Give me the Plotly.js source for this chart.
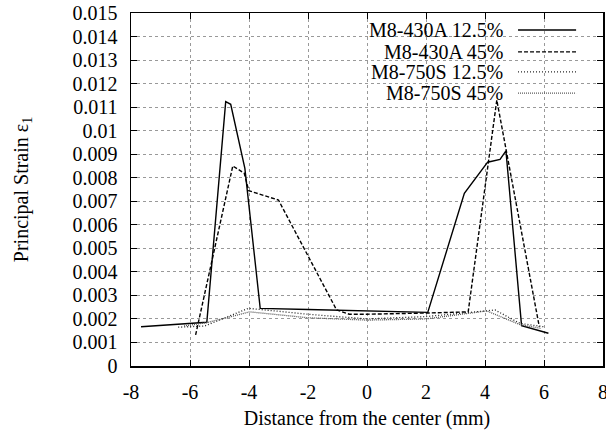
<!DOCTYPE html>
<html>
<head>
<meta charset="utf-8">
<script src="https://cdn.plot.ly/plotly-3.0.1.min.js"></script>
<style>html,body{margin:0;padding:0;background:#fff;}#chart{width:606px;height:434px;}</style>
</head>
<body>
<div id="chart"></div>
<script>
// Series names
const seriesNames = ["M8-430A 12.5%", "M8-430A 45%", "M8-750S 12.5%", "M8-750S 45%"];

// M8-430A 12.5%
const x430A125 = [-7.66, -5.43, -4.79, -4.62, -4.14, -3.62, -2.0, 0.0, 2.06, 3.30, 4.09, 4.51, 4.71, 5.24, 6.15];
const y430A125 = [0.00167, 0.00186, 0.01123, 0.01112, 0.0084, 0.00245, 0.0024, 0.00235, 0.00228, 0.00734, 0.00866, 0.00878, 0.00914, 0.00171, 0.00139];

// M8-430A 45%
const x430A45 = [-5.81, -4.55, -4.16, -4.01, -3.0, -1.03, -0.6, 0.0, 2.0, 3.43, 4.40, 5.84];
const y430A45 = [0.00132, 0.0085, 0.00819, 0.00745, 0.00705, 0.00238, 0.0022, 0.0022, 0.00225, 0.0023, 0.0113, 0.00167];

// M8-750S 12.5%
const x750S125 = [-6.4, -5.5, -4.02, -2.0, 0.0, 2.0, 4.34, 5.19, 5.98];
const y750S125 = [0.00165, 0.0017, 0.00245, 0.0022, 0.002, 0.0021, 0.00238, 0.00181, 0.00167];

// M8-750S 45%
const x750S45 = [-6.2, -5.4, -3.97, -2.0, 0.0, 2.0, 4.06, 5.2, 5.9];
const y750S45 = [0.0017, 0.00185, 0.0023, 0.00205, 0.00195, 0.002, 0.00234, 0.00175, 0.0016];

// Tick labels
const xTickVals = [-8, -6, -4, -2, 0, 2, 4, 6, 8];
const xTickText = ["-8", "-6", "-4", "-2", "0", "2", "4", "6", "8"];
const yTickVals = [0, 0.001, 0.002, 0.003, 0.004, 0.005, 0.006, 0.007, 0.008, 0.009, 0.01, 0.011, 0.012, 0.013, 0.014, 0.015];
const yTickText = ["0", "0.001", "0.002", "0.003", "0.004", "0.005", "0.006", "0.007", "0.008", "0.009", "0.01", "0.011", "0.012", "0.013", "0.014", "0.015"];

const styles = [
  {color: "#000", width: 1.4, dash: "solid"},
  {color: "#000", width: 1.4, dash: "4px,2px"},
  {color: "#222", width: 1.3, dash: "1px,2px"},
  {color: "#555", width: 1.3, dash: "1px,1px"}
];

const xs = [x430A125, x430A45, x750S125, x750S45];
const ys = [y430A125, y430A45, y750S125, y750S45];

const traces = xs.map((x, i) => ({
  x: x, y: ys[i], type: "scatter", mode: "lines", name: seriesNames[i],
  line: styles[i], showlegend: false
}));

const font = {family: "Liberation Serif", size: 20, color: "#000"};

// legend built as annotations + sample lines (gnuplot style: text left of sample)
const legendRowY = [0.952, 0.890, 0.833, 0.773];
const annotations = seriesNames.map((n, i) => ({
  xref: "paper", yref: "paper", x: 0.792, y: legendRowY[i], xanchor: "right", yanchor: "middle",
  text: n, showarrow: false, font: font
}));
const shapes = [{
  type: "rect", xref: "paper", yref: "paper", x0: 0.443, x1: 0.972, y0: 0.754, y1: 1.0,
  fillcolor: "#fff", line: {width: 0}, layer: "between"
}].concat(seriesNames.map((n, i) => ({
  type: "line", xref: "paper", yref: "paper", x0: 0.82, x1: 0.943, y0: legendRowY[i], y1: legendRowY[i],
  line: styles[i]
})));

const axisCommon = {
  showline: true, linecolor: "#000", linewidth: 1.5, mirror: "ticks",
  ticks: "inside", ticklen: 6, tickcolor: "#000", tickwidth: 1,
  showgrid: true, gridcolor: "#999", griddash: "dot", gridwidth: 1,
  zeroline: false, tickfont: font, tickmode: "array", ticklabeloverflow: "allow"
};

const layout = {
  width: 606, height: 434,
  margin: {l: 131, r: 3, t: 13, b: 68},
  paper_bgcolor: "#fff", plot_bgcolor: "#fff",
  font: font,
  xaxis: Object.assign({}, axisCommon, {
    range: [-8, 8], tickvals: xTickVals, ticktext: xTickText, ticklabelstandoff: 7,
    title: {text: "Distance from the center (mm)", font: font, standoff: 9}
  }),
  yaxis: Object.assign({}, axisCommon, {
    range: [0, 0.015], tickvals: yTickVals, ticktext: yTickText, ticklabelstandoff: 8,
    title: {text: "Principal Strain ε<sub>1</sub>", font: font, standoff: 38}
  }),
  annotations: annotations,
  shapes: shapes,
  showlegend: false
};

Plotly.newPlot("chart", traces, layout, {staticPlot: true, displayModeBar: false});
</script>
</body>
</html>
